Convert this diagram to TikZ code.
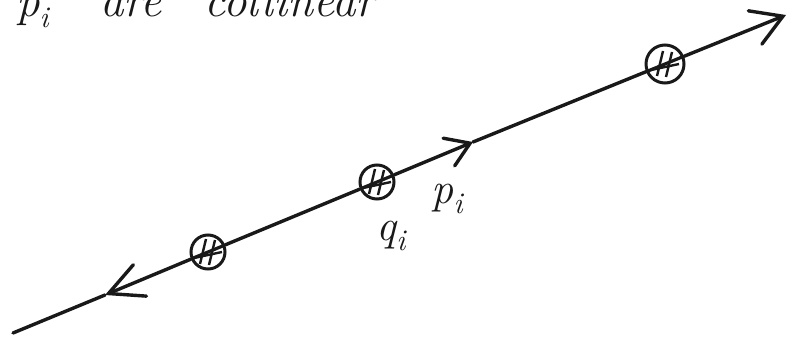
\documentclass[tikz,border=0pt]{standalone}
\usetikzlibrary{arrows.meta,calc}
\newcommand{\subi}[2]{#1\raisebox{-0.22em}{\fontsize{#2}{#2}\selectfont i}}
\begin{document}
\begin{tikzpicture}[x=1pt,y=-1pt,
  ink/.style={line width=3.4pt, line cap=round, draw=black!90},
  tipA/.style={-{Straight Barb[length=34pt,width=34pt,line cap=round]}},
  tipB/.style={-{Straight Barb[length=23pt,width=30pt,line cap=round]}},
  tipC/.style={-{Straight Barb[length=30pt,width=36pt,line cap=round]}},
  hatched/.style={circle, draw=black!90, line width=3pt, minimum size=34pt, inner sep=0pt,
    path picture={
      \path (path picture bounding box.center) coordinate (hc);
      \draw[black!90, line width=3.2pt] ($(hc)+(-22,9)$) -- ($(hc)+(22,-9)$);
      \draw[black!90, line width=2.4pt] ($(hc)+(-8,12)$) -- ($(hc)+(-2,-13)$);
      \draw[black!90, line width=2.4pt] ($(hc)+(1,13)$) -- ($(hc)+(7,-12)$);
      \draw[black!90, line width=2.4pt] ($(hc)+(-14,6)$) -- ($(hc)+(14,0)$);
    }},
  lab/.style={inner sep=0pt, text=black!90, font=\fontsize{44}{44}\selectfont\itshape},
  head/.style={anchor=base west, inner sep=0pt, text=black!90, font=\fontsize{47}{47}\selectfont\itshape}]
\useasboundingbox (0,0) rectangle (789,337);
\fill[white] (0,0) rectangle (789,337);
\clip (0,0) rectangle (789,337);

\node[head] (t1) at (16,17) {\subi{p}{30}};
\node[head] (t2) at (100,17) {are};
\node[head] (t3) at (204,17) {collinear};

\coordinate (s) at (13,333);
\coordinate (e) at (786,15);
\coordinate (ta) at (105,295);
\coordinate (tb) at (473,142);
\node[hatched] (c1) at (208,252) {};
\node[hatched] (c2) at (377,182) {};
\node[hatched, minimum size=38pt] (c3) at (665,64) {};

\draw[ink] (s) -- (ta);
\draw[ink, tipA] (c1) -- (ta);
\draw[ink] (c1) -- (c2);
\draw[ink, tipB] (c2) -- (tb);
\draw[ink] (tb) -- (c3);
\draw[ink, tipC] (c3) -- (e);

\node[lab] (p) at (447,199) {\subi{p}{30}};
\node[lab] (q) at (391,236) {\subi{q}{30}};
\end{tikzpicture}
\end{document}
